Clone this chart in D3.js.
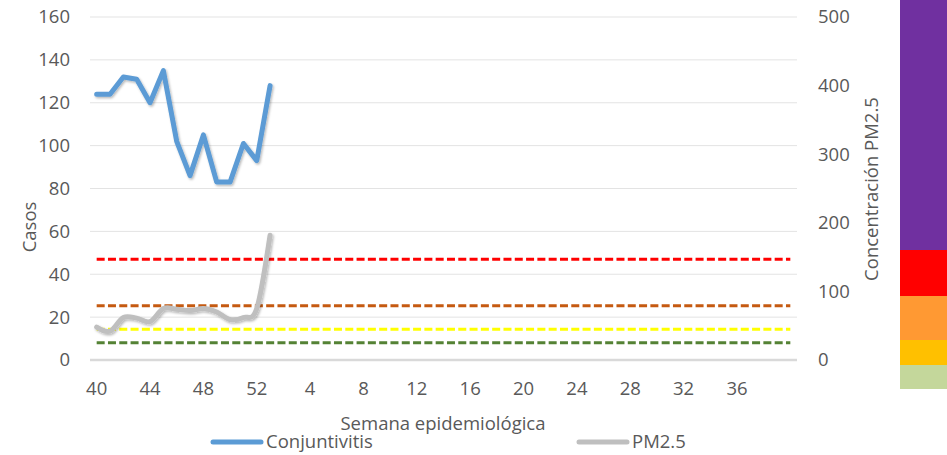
<!DOCTYPE html>
<html>
<head>
<meta charset="utf-8">
<script src="https://cdn.jsdelivr.net/npm/d3@7/dist/d3.min.js"></script>
<style>
  html, body { margin: 0; padding: 0; background: #ffffff; }
  svg { display: block; font-family: "Open Sans", sans-serif; }
</style>
</head>
<body>
<svg id="chart" width="947" height="455"></svg>
<script>
// Epidemiological weeks (40 of one year through 40 of the next)
const weeks = [40, 41, 42, 43, 44, 45, 46, 47, 48, 49, 50, 51, 52,
  1, 2, 3, 4, 5, 6, 7, 8, 9, 10, 11, 12, 13, 14, 15, 16, 17, 18, 19, 20,
  21, 22, 23, 24, 25, 26, 27, 28, 29, 30, 31, 32, 33, 34, 35, 36, 37, 38, 39, 40];
const weekTicks = [40, 44, 48, 52, 4, 8, 12, 16, 20, 24, 28, 32, 36];

// Weekly conjunctivitis cases (left axis)
const conjuntivitis = [124, 124, 132, 131, 120, 135, 102, 86, 105, 83, 83, 101, 93, 128];
// Weekly PM2.5 concentration (right axis)
const pm25 = [48, 42, 62, 61, 56, 75, 74, 72, 75, 70, 59, 62, 75, 182];

// Air-quality thresholds for PM2.5 (right axis), drawn as dashed lines
const thresholdValues = [25, 45, 79, 147];
const thresholdColors = ["#548235", "#FFFF00", "#C55A11", "#FF0000"];

// Colour key bands, bottom to top (key units)
const bandLimits = [0, 24, 49, 93, 139, 389];
const bandColors = ["#C4D79B", "#FFC000", "#FF9933", "#FF0000", "#7030A0"];

const leftTicks = [0, 20, 40, 60, 80, 100, 120, 140, 160];
const rightTicks = [0, 100, 200, 300, 400, 500];

const svg = d3.select("#chart");
const W = 947, H = 455;
const plot = { left: 90, right: 797, top: 17, bottom: 360 };
const textColor = "#595959";
const fontSize = 18.5;

const x = d3.scaleBand()
  .domain(d3.range(weeks.length))
  .range([plot.left, plot.right]);
const cx = i => x(i) + x.bandwidth() / 2;

const yL = d3.scaleLinear().domain([0, 160]).range([plot.bottom, plot.top]);
const yR = d3.scaleLinear().domain([0, 500]).range([plot.bottom, plot.top]);

// soft shadow under the data lines
const defs = svg.append("defs");
const f = defs.append("filter").attr("id", "shadow")
  .attr("x", "-10%").attr("y", "-10%").attr("width", "120%").attr("height", "120%");
f.append("feDropShadow").attr("dx", 1.2).attr("dy", 1.5)
  .attr("stdDeviation", 1.3).attr("flood-color", "#000").attr("flood-opacity", 0.28);

// horizontal gridlines
svg.append("g")
  .selectAll("line")
  .data(leftTicks.filter(d => d > 0))
  .join("line")
  .attr("x1", plot.left).attr("x2", plot.right)
  .attr("y1", d => yL(d)).attr("y2", d => yL(d))
  .attr("stroke", "#e3e3e3").attr("stroke-width", 1);

// baseline
svg.append("line")
  .attr("x1", plot.left).attr("x2", plot.right)
  .attr("y1", yL(0)).attr("y2", yL(0))
  .attr("stroke", "#d9d9d9").attr("stroke-width", 2.5);

// left axis labels
const axL = svg.append("g")
  .attr("transform", "translate(70,0)")
  .call(d3.axisLeft(yL).tickValues(leftTicks).tickSize(0).tickPadding(0));
axL.select(".domain").remove();
axL.selectAll("text").attr("fill", textColor).attr("font-size", fontSize)
  .attr("font-family", "Open Sans, sans-serif");

// right axis labels
const axR = svg.append("g")
  .attr("transform", "translate(818,0)")
  .call(d3.axisRight(yR).tickValues(rightTicks).tickSize(0).tickPadding(0));
axR.select(".domain").remove();
axR.selectAll("text").attr("fill", textColor).attr("font-size", fontSize)
  .attr("font-family", "Open Sans, sans-serif");

// x axis labels
const tickIdx = weekTicks.map(w => weeks.indexOf(w));
const axX = svg.append("g")
  .attr("transform", `translate(0,${plot.bottom})`)
  .call(d3.axisBottom(x).tickValues(tickIdx).tickFormat(i => weeks[i]).tickSize(0).tickPadding(22));
axX.select(".domain").remove();
axX.selectAll("text").attr("fill", textColor).attr("font-size", fontSize)
  .attr("font-family", "Open Sans, sans-serif");

// threshold lines
const lineR = d3.line().x((d, i) => cx(i)).y(d => yR(d));
svg.append("g")
  .selectAll("path")
  .data(thresholdValues.map((v, k) => ({ v, c: thresholdColors[k] })))
  .join("path")
  .attr("d", d => lineR(weeks.map(() => d.v)))
  .attr("fill", "none")
  .attr("stroke", d => d.c)
  .attr("stroke-width", 3)
  .attr("stroke-dasharray", "8,3.3");

// PM2.5 line (smoothed)
svg.append("path")
  .datum(pm25)
  .attr("d", d3.line().x((d, i) => cx(i)).y(d => yR(d)).curve(d3.curveCatmullRom.alpha(0)))
  .attr("fill", "none")
  .attr("stroke", "#BFBFBF")
  .attr("stroke-width", 5)
  .attr("stroke-linejoin", "round")
  .attr("stroke-linecap", "round")
  .attr("filter", "url(#shadow)");

// Conjunctivitis line
svg.append("path")
  .datum(conjuntivitis)
  .attr("d", d3.line().x((d, i) => cx(i)).y(d => yL(d)))
  .attr("fill", "none")
  .attr("stroke", "#5B9BD5")
  .attr("stroke-width", 5)
  .attr("stroke-linejoin", "round")
  .attr("stroke-linecap", "round")
  .attr("filter", "url(#shadow)");

// axis titles
svg.append("text")
  .attr("transform", "translate(36,227) rotate(-90)")
  .attr("text-anchor", "middle")
  .attr("fill", textColor).attr("font-size", fontSize)
  .text("Casos");

svg.append("text")
  .attr("transform", "translate(878,189) rotate(-90)")
  .attr("text-anchor", "middle")
  .attr("fill", textColor).attr("font-size", fontSize)
  .text("Concentración PM2.5");

svg.append("text")
  .attr("x", 443).attr("y", 430)
  .attr("text-anchor", "middle")
  .attr("fill", textColor).attr("font-size", fontSize)
  .text("Semana epidemiológica");

// legend
const legend = [
  { name: "Conjuntivitis", color: "#5B9BD5", x0: 213 },
  { name: "PM2.5", color: "#BFBFBF", x0: 579 }
];
const lg = svg.append("g").selectAll("g").data(legend).join("g")
  .attr("transform", d => `translate(${d.x0},442)`);
lg.append("line")
  .attr("x1", 0).attr("x2", 48).attr("y1", 0).attr("y2", 0)
  .attr("stroke", d => d.color).attr("stroke-width", 5)
  .attr("stroke-linecap", "round");
lg.append("text")
  .attr("x", 53).attr("y", 0).attr("dy", "0.35em")
  .attr("fill", textColor).attr("font-size", fontSize)
  .text(d => d.name);

// colour key on the right edge
const yKey = d3.scaleLinear().domain([0, 389]).range([389, 0]);
svg.append("g")
  .selectAll("rect")
  .data(bandColors.map((c, k) => ({ c, lo: bandLimits[k], hi: bandLimits[k + 1] })))
  .join("rect")
  .attr("x", 900).attr("width", W - 900)
  .attr("y", d => yKey(d.hi))
  .attr("height", d => yKey(d.lo) - yKey(d.hi))
  .attr("fill", d => d.c);
</script>
</body>
</html>
